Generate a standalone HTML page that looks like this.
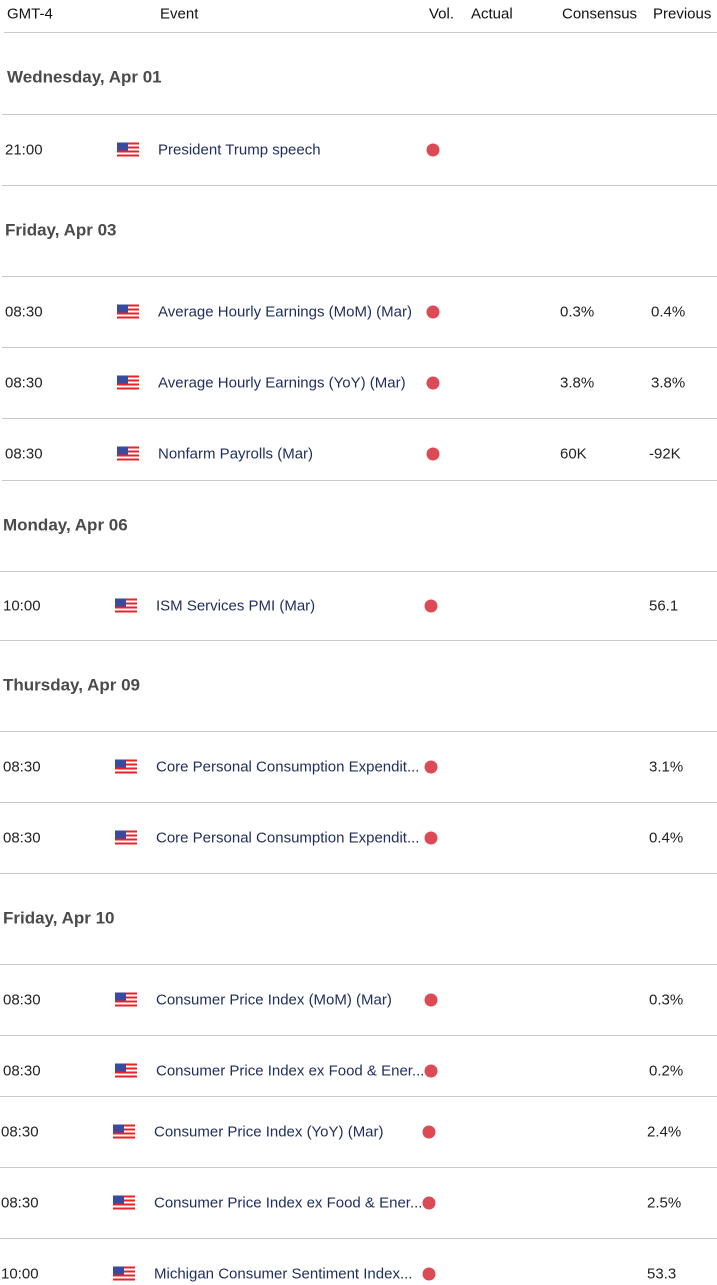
<!DOCTYPE html>
<html><head><meta charset="utf-8"><style>
body{margin:0;width:717px;height:1285px;background:#fff;position:relative;overflow:hidden;font-family:"Liberation Sans",sans-serif;}
.a{position:absolute;white-space:nowrap;line-height:1;transform:translateY(-50%);}
.h{font-size:15px;color:#111;}
.d{font-size:17px;font-weight:bold;color:#4a4a4a;}
.t{font-size:15px;color:#222;}
.e{font-size:15px;color:#1f2d5c;}
.v{font-size:15px;color:#222;}
.ln{position:absolute;right:0;height:1px;background:#c5cbcd;}
.dot{position:absolute;width:13px;height:13px;border-radius:50%;background:#dc4a55;transform:translate(-50%,-50%);}
.flag{position:absolute;width:22px;height:15px;transform:translateY(-50%);background:repeating-linear-gradient(#e8222a 0 2px,#fff 2px 4px);}
.flag:before{content:"";position:absolute;left:0;top:0;width:11px;height:8px;background:#3a4a9c;}
</style></head><body>
<div class="a h" style="left:7px;top:14px">GMT-4</div>
<div class="a h" style="left:160px;top:14px">Event</div>
<div class="a h" style="left:429px;top:14px">Vol.</div>
<div class="a h" style="left:471px;top:14px">Actual</div>
<div class="a h" style="left:562px;top:14px">Consensus</div>
<div class="a h" style="left:653px;top:14px">Previous</div>
<div class="ln" style="left:4px;top:32px"></div>

<div class="a d" style="left:7px;top:77px">Wednesday, Apr 01</div>
<div class="a d" style="left:5px;top:230px">Friday, Apr 03</div>
<div class="a d" style="left:3px;top:525px">Monday, Apr 06</div>
<div class="a d" style="left:3px;top:685px">Thursday, Apr 09</div>
<div class="a d" style="left:3px;top:918px">Friday, Apr 10</div>

<div class="ln" style="left:2px;top:114px"></div>
<div class="ln" style="left:2px;top:185px"></div>
<div class="ln" style="left:2px;top:276px"></div>
<div class="ln" style="left:2px;top:347px"></div>
<div class="ln" style="left:2px;top:418px"></div>
<div class="ln" style="left:2px;top:480px"></div>
<div class="ln" style="left:0;top:571px"></div>
<div class="ln" style="left:0;top:640px"></div>
<div class="ln" style="left:0;top:731px"></div>
<div class="ln" style="left:0;top:802px"></div>
<div class="ln" style="left:0;top:873px"></div>
<div class="ln" style="left:0;top:964px"></div>
<div class="ln" style="left:0;top:1035px"></div>
<div class="ln" style="left:0;top:1096px"></div>
<div class="ln" style="left:0;top:1167px"></div>
<div class="ln" style="left:0;top:1238px"></div>

<div class="a t" style="left:5px;top:150px">21:00</div><div class="flag" style="left:117px;top:150px"></div><div class="a e" style="left:158px;top:150px">President Trump speech</div><div class="dot" style="left:433px;top:150px"></div>

<div class="a t" style="left:5px;top:312px">08:30</div><div class="flag" style="left:117px;top:312px"></div><div class="a e" style="left:158px;top:312px">Average Hourly Earnings (MoM) (Mar)</div><div class="dot" style="left:433px;top:312px"></div><div class="a v" style="left:560px;top:312px">0.3%</div><div class="a v" style="left:651px;top:312px">0.4%</div>

<div class="a t" style="left:5px;top:383px">08:30</div><div class="flag" style="left:117px;top:383px"></div><div class="a e" style="left:158px;top:383px">Average Hourly Earnings (YoY) (Mar)</div><div class="dot" style="left:433px;top:383px"></div><div class="a v" style="left:560px;top:383px">3.8%</div><div class="a v" style="left:651px;top:383px">3.8%</div>

<div class="a t" style="left:5px;top:454px">08:30</div><div class="flag" style="left:117px;top:454px"></div><div class="a e" style="left:158px;top:454px">Nonfarm Payrolls (Mar)</div><div class="dot" style="left:433px;top:454px"></div><div class="a v" style="left:560px;top:454px">60K</div><div class="a v" style="left:649px;top:454px">-92K</div>

<div class="a t" style="left:3px;top:606px">10:00</div><div class="flag" style="left:115px;top:606px"></div><div class="a e" style="left:156px;top:606px">ISM Services PMI (Mar)</div><div class="dot" style="left:431px;top:606px"></div><div class="a v" style="left:649px;top:606px">56.1</div>

<div class="a t" style="left:3px;top:767px">08:30</div><div class="flag" style="left:115px;top:767px"></div><div class="a e" style="left:156px;top:767px">Core Personal Consumption Expendit...</div><div class="dot" style="left:431px;top:767px"></div><div class="a v" style="left:649px;top:767px">3.1%</div>

<div class="a t" style="left:3px;top:838px">08:30</div><div class="flag" style="left:115px;top:838px"></div><div class="a e" style="left:156px;top:838px">Core Personal Consumption Expendit...</div><div class="dot" style="left:431px;top:838px"></div><div class="a v" style="left:649px;top:838px">0.4%</div>

<div class="a t" style="left:3px;top:1000px">08:30</div><div class="flag" style="left:115px;top:1000px"></div><div class="a e" style="left:156px;top:1000px">Consumer Price Index (MoM) (Mar)</div><div class="dot" style="left:431px;top:1000px"></div><div class="a v" style="left:649px;top:1000px">0.3%</div>

<div class="a t" style="left:3px;top:1071px">08:30</div><div class="flag" style="left:115px;top:1071px"></div><div class="a e" style="left:156px;top:1071px">Consumer Price Index ex Food &amp; Ener...</div><div class="dot" style="left:431px;top:1071px"></div><div class="a v" style="left:649px;top:1071px">0.2%</div>

<div class="a t" style="left:1px;top:1132px">08:30</div><div class="flag" style="left:113px;top:1132px"></div><div class="a e" style="left:154px;top:1132px">Consumer Price Index (YoY) (Mar)</div><div class="dot" style="left:429px;top:1132px"></div><div class="a v" style="left:647px;top:1132px">2.4%</div>

<div class="a t" style="left:1px;top:1203px">08:30</div><div class="flag" style="left:113px;top:1203px"></div><div class="a e" style="left:154px;top:1203px">Consumer Price Index ex Food &amp; Ener...</div><div class="dot" style="left:429px;top:1203px"></div><div class="a v" style="left:647px;top:1203px">2.5%</div>

<div class="a t" style="left:1px;top:1274px">10:00</div><div class="flag" style="left:113px;top:1274px"></div><div class="a e" style="left:154px;top:1274px">Michigan Consumer Sentiment Index...</div><div class="dot" style="left:429px;top:1274px"></div><div class="a v" style="left:647px;top:1274px">53.3</div>
</body></html>
